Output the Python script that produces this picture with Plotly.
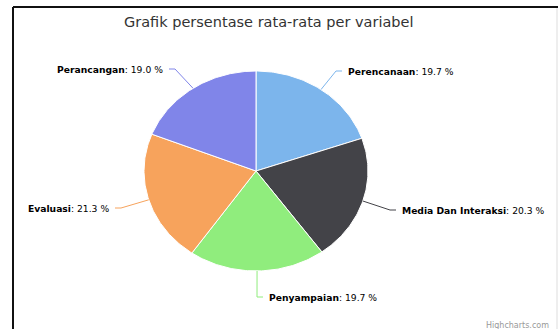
import numpy as np
import plotly.graph_objects as go

# ---- data ----
categories = ["Perencanaan", "Media Dan Interaksi", "Penyampaian", "Evaluasi", "Perancangan"]
values = [19.7, 20.3, 19.7, 21.3, 19.0]
colors = ["#7cb5ec", "#434348", "#90ed7d", "#f7a35c", "#8085e9"]
title_text = "Grafik persentase rata-rata per variabel"

# ---- layout constants (pixel space) ----
W, H = 558, 329
cx, cy, rx, ry = 256, 171, 112, 100
# label anchor positions and alignment
label_pos = [(346, 71, "left"), (400, 210, "left"), (267, 297, "left"),
             (111, 208, "right"), (165, 69, "right")]

fig = go.Figure()

total = sum(values)
start = 0.0
mids = []
for name, v, col in zip(categories, values, colors):
    a0 = start / total * 2 * np.pi
    a1 = (start + v) / total * 2 * np.pi
    t = np.linspace(a0, a1, 80)
    xs = [cx] + list(cx + rx * np.sin(t)) + [cx]
    ys = [cy] + list(cy - ry * np.cos(t)) + [cy]
    fig.add_trace(go.Scatter(x=xs, y=ys, mode="lines", fill="toself",
                             fillcolor=col, line=dict(color="white", width=1),
                             name=name, hoverinfo="name", showlegend=False))
    mids.append((a0 + a1) / 2)
    start += v

annotations = []
for name, v, col, m, (lx, ly, side) in zip(categories, values, colors, mids, label_pos):
    ex = cx + rx * np.sin(m)
    ey = cy - ry * np.cos(m)
    s = 1 if side == "left" else -1
    fig.add_trace(go.Scatter(x=[ex, lx - s * 10, lx - s * 4], y=[ey, ly, ly],
                             mode="lines", line=dict(color=col, width=1),
                             hoverinfo="skip", showlegend=False))
    annotations.append(dict(x=lx, y=ly, xref="x", yref="y", showarrow=False,
                            xanchor=side, yanchor="middle",
                            text=f"<b>{name}</b>: {v:.1f} %",
                            font=dict(family="DejaVu Sans", size=9.2, color="#000000")))

annotations.append(dict(x=269, y=22, xref="x", yref="y", showarrow=False,
                        xanchor="center", yanchor="middle", text=title_text,
                        font=dict(family="DejaVu Sans", size=14.5, color="#333333")))
annotations.append(dict(x=551, y=325, xref="x", yref="y", showarrow=False,
                        xanchor="right", yanchor="middle", text="Highcharts.com",
                        font=dict(family="DejaVu Sans", size=8, color="#999999")))

shapes = [
    dict(type="line", xref="x", yref="y", x0=13, y0=7, x1=13, y1=H, line=dict(color="#111111", width=2)),
    dict(type="line", xref="x", yref="y", x0=13, y0=7, x1=W, y1=7, line=dict(color="#111111", width=2)),
    dict(type="line", xref="x", yref="y", x0=557, y0=8, x1=557, y1=H, line=dict(color="#dddddd", width=1)),
]

fig.update_layout(
    width=W, height=H, margin=dict(l=0, r=0, t=0, b=0),
    paper_bgcolor="white", plot_bgcolor="white",
    xaxis=dict(range=[0, W], visible=False, fixedrange=True),
    yaxis=dict(range=[H, 0], visible=False, fixedrange=True),
    annotations=annotations, shapes=shapes, showlegend=False,
)

fig.write_html("out.html")
